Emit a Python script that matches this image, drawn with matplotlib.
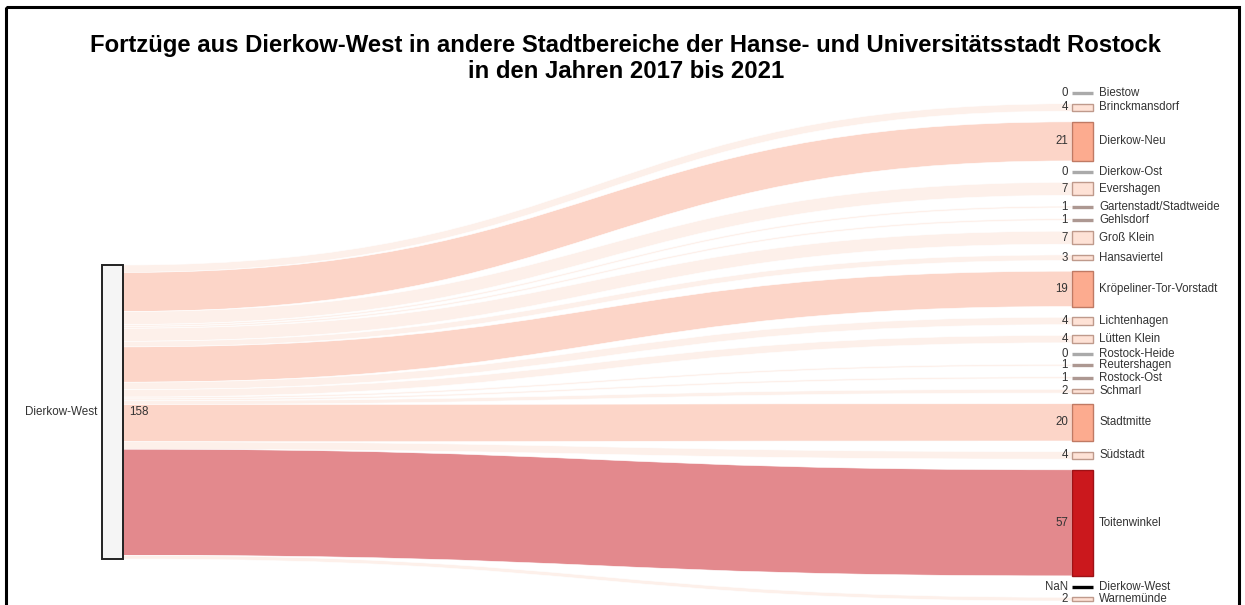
import numpy as np
import matplotlib
matplotlib.use("Agg")
import matplotlib.pyplot as plt
from matplotlib.path import Path
from matplotlib.patches import PathPatch, Rectangle

plt.rcParams['font.family'] = ['Liberation Sans', 'DejaVu Sans']

# data ---------------------------------------------------------------
title_lines = ['Fortzüge aus Dierkow-West in andere Stadtbereiche der Hanse- und Universitätsstadt Rostock',
               'in den Jahren 2017 bis 2021']
source = 'Dierkow-West'
source_total = 158
targets = ['Biestow', 'Brinckmansdorf', 'Dierkow-Neu', 'Dierkow-Ost', 'Evershagen',
           'Gartenstadt/Stadtweide', 'Gehlsdorf', 'Groß Klein', 'Hansaviertel',
           'Kröpeliner-Tor-Vorstadt', 'Lichtenhagen', 'Lütten Klein', 'Rostock-Heide',
           'Reutershagen', 'Rostock-Ost', 'Schmarl', 'Stadtmitte', 'Südstadt',
           'Toitenwinkel', 'Dierkow-West', 'Warnemünde']
values = [0, 4, 21, 0, 7, 1, 1, 7, 3, 19, 4, 4, 0, 1, 1, 2, 20, 4, 57, np.nan, 2]

# layout (pixels) ----------------------------------------------------
W, H = 1245, 605
px = 294 / 158          # pixels per person
gap = 10.7
left_x0, left_x1 = 102, 123
right_x0, right_x1 = 1072, 1093
left_top = 265
right_top = 93
txt = '#333333'


def colors_for(v):
    # node fill, node edge, link colour
    if np.isnan(v):
        return 'black', 'black', None
    if v == 0:
        return '#aaaaaa', '#aaaaaa', None
    if v >= 40:
        return '#cb181d', '#9e1216', '#e3898d'
    if v >= 10:
        return '#fcab8f', '#c07a64', '#fcd5c8'
    return '#fee2d6', '#bf9a8c', '#fdf0ea'


fig = plt.figure(figsize=(W / 100, H / 100), dpi=100)
ax = fig.add_axes([0, 0, 1, 1])
ax.set_xlim(0, W)
ax.set_ylim(H, 0)
ax.axis('off')

# frame
ax.add_patch(Rectangle((6, 7), 1233, 700, fill=False, edgecolor='black', lw=2.2, clip_on=False))

for i, line in enumerate(title_lines):
    ax.text(626, 45.5 + 26 * i, line, ha='center', va='center', fontsize=17.2,
            fontweight='bold', color='black')

# links
ly = left_top
ry = right_top
node_pos = []
for name, v in zip(targets, values):
    h = 0 if np.isnan(v) else v * px
    node_pos.append((ry, h))
    fill, edge, lc = colors_for(v)
    if lc is not None and h > 0:
        xm = (left_x1 + right_x0) / 2
        verts = [(left_x1, ly), (xm, ly), (xm, ry), (right_x0, ry),
                 (right_x0, ry + h), (xm, ry + h), (xm, ly + h), (left_x1, ly + h),
                 (left_x1, ly)]
        codes = [Path.MOVETO, Path.CURVE4, Path.CURVE4, Path.CURVE4,
                 Path.LINETO, Path.CURVE4, Path.CURVE4, Path.CURVE4, Path.CLOSEPOLY]
        ax.add_patch(PathPatch(Path(verts, codes), facecolor=lc, edgecolor='white', lw=0.4))
        ly += h
    ry += h + gap

# left node
ax.add_patch(Rectangle((left_x0, left_top), left_x1 - left_x0, source_total * px,
                       facecolor='#f5f5f5', edgecolor='#222222', lw=1.4))
mid = left_top + source_total * px / 2
ax.text(left_x0 - 5, mid, source, ha='right', va='center', fontsize=8.4, color=txt)
ax.text(left_x1 + 6, mid, str(source_total), ha='left', va='center', fontsize=8.4, color=txt)

# right nodes
for name, v, (y, h) in zip(targets, values, node_pos):
    fill, edge, lc = colors_for(v)
    if h == 0:
        ax.plot([right_x0, right_x1], [y, y], color=fill, lw=2.4, solid_capstyle='butt')
        yc = y
    elif v <= 1:
        ax.plot([right_x0, right_x1], [y + h / 2, y + h / 2], color='#ad9892', lw=2.4,
                solid_capstyle='butt')
        yc = y + h / 2
    else:
        ax.add_patch(Rectangle((right_x0, y), right_x1 - right_x0, h,
                               facecolor=fill, edgecolor=edge, lw=1.0))
        yc = y + h / 2
    lab = 'NaN' if np.isnan(v) else str(int(v))
    ax.text(right_x0 - 4, yc, lab, ha='right', va='center', fontsize=8.3, color=txt)
    ax.text(right_x1 + 6, yc, name, ha='left', va='center', fontsize=8.3, color=txt)

fig.savefig('out.png', dpi=100)
